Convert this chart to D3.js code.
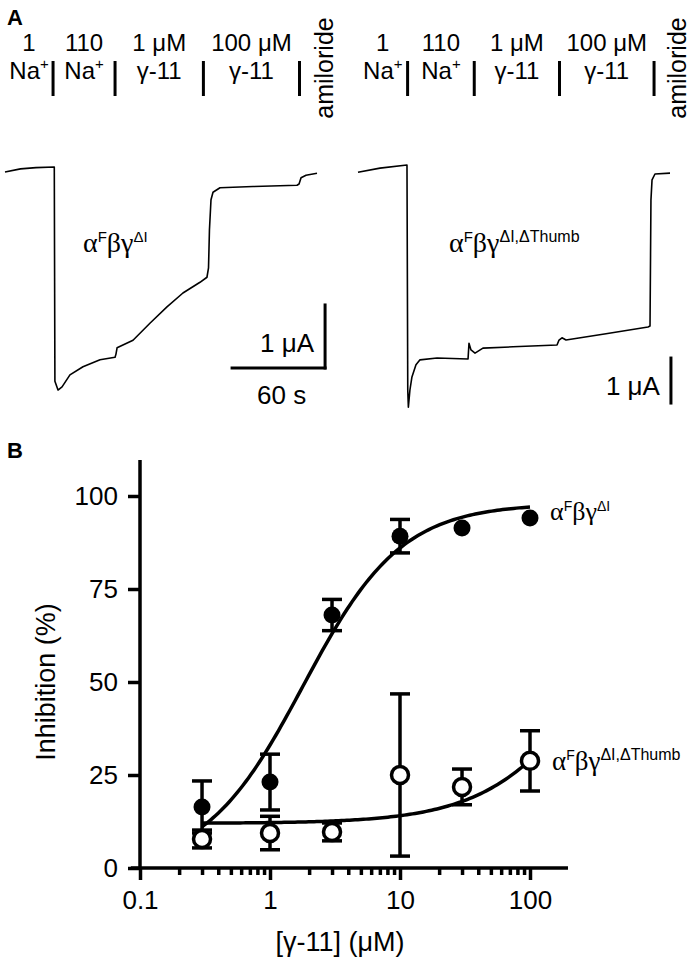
<!DOCTYPE html>
<html lang="en">
<head>
<meta charset="UTF-8">
<title>γ-11 inhibition of ENaC</title>
<style>
  body, html { margin: 0; padding: 0; background: #fff; }
  svg { display: block; }
  text { font-family: "Liberation Sans", Arial, sans-serif; fill: #000; }
  .serif { font-family: "Liberation Serif", "Times New Roman", serif; }
</style>
<script src="https://d3js.org/d3.v7.min.js"></script>
</head>
<body>
<div id="fig"></div>
<script>
// ---- panel A: current traces (time in s, current in µA, 0 = baseline before Na+)
const wtTime = [0, 10, 20, 31.8, 32.2, 34.2, 36.8, 41.9, 50.3, 61.3, 71, 71.6, 72.3, 82.6, 93.5, 104.5,
  114.8, 125.8, 130.3, 131.3, 131.9, 132.9, 134.2, 138.7, 160, 188.4, 189.7, 191, 194.2, 201.3];
const wtCurrent = [-0.08, -0.03, -0.01, 0, -3.4, -3.54, -3.49, -3.30, -3.17, -3.06, -3.02, -2.97, -2.87, -2.75, -2.48, -2.22,
  -2.0, -1.83, -1.75, -1.6, -1.0, -0.52, -0.40, -0.33, -0.31, -0.29, -0.27, -0.17, -0.13, -0.10];

const thumbTime = [0, 14.2, 31.6, 32.1, 32.5, 33.5, 34.8, 37.4, 40, 51, 71, 71.6, 72.9, 75.5, 80.6, 100,
  128.4, 129.7, 131.6, 134.2, 160, 187.1, 188.4, 189, 189.7, 191.6, 201.3];
const thumbCurrent = [-0.16, -0.07, 0, -5.0, -5.38, -5.0, -4.71, -4.44, -4.33, -4.29, -4.31, -3.96, -4.11, -4.18, -4.07, -4.04,
  -4.0, -3.89, -3.84, -3.89, -3.75, -3.6, -3.58, -0.78, -0.33, -0.2, -0.18];

// solution changes (s) and labels
const wtSwitch = [31, 71, 128, 190];
const thumbSwitch = [32, 75, 130, 191];
const solTop = ["1", "110", "1 μM", "100 μM"];
const solBottom = ["Na", "Na", "γ-11", "γ-11"];
const solSup = ["+", "+", "", ""];

// ---- panel B: concentration-response
const conc = [0.3, 1, 3, 10, 30, 100];
const inhibWT = [16.4, 23.1, 68, 89.2, 91.4, 94.1];
const semWT = [7, 7.5, 4.2, 4.5, 0, 0];
const inhibThumb = [7.8, 9.4, 9.7, 25, 21.8, 28.8];
const semThumb = [2.4, 4.5, 2.4, 21.8, 4.8, 8.1];
// Hill fits: bottom, top, IC50 (µM), Hill slope
const fitWT = [0, 98, 1.8, 1.15];
const fitThumb = [12, 100, 418, 1];

const yTicks = [0, 25, 50, 75, 100];
const xMajor = [0.1, 1, 10, 100];
const xMinor = [0.2, 0.3, 0.4, 0.5, 0.6, 0.7, 0.8, 0.9, 2, 3, 4, 5, 6, 7, 8, 9, 20, 30, 40, 50, 60, 70, 80, 90];

const W = 693, H = 962;
const svg = d3.select("#fig").append("svg").attr("width", W).attr("height", H);

svg.append("text").attr("x", 7).attr("y", 25).attr("font-size", 22).attr("font-weight", "bold").text("A");
svg.append("text").attr("x", 7).attr("y", 458).attr("font-size", 22).attr("font-weight", "bold").text("B");

function greekLabel(g, x, y, sup, size, supSize) {
  const t = g.append("text").attr("x", x).attr("y", y);
  const s = Math.round(size * 0.52);
  t.append("tspan").attr("class", "serif").attr("font-size", size).text("α");
  t.append("tspan").attr("font-size", s).attr("dy", -size * 0.36).text("F");
  t.append("tspan").attr("class", "serif").attr("font-size", size).attr("dy", size * 0.36).text("βγ");
  t.append("tspan").attr("font-size", supSize || s).attr("dy", -size * 0.36).text(sup);
}

function trace(time, current, x0, yPxPerUA, yBase, switches, barInfo) {
  const x = d3.scaleLinear().domain([0, 201.3]).range([x0, x0 + 201.3 * 1.55]);
  const y = d3.scaleLinear().domain([0, -1]).range([yBase, yBase + yPxPerUA]);
  const g = svg.append("g");

  g.append("path")
    .datum(d3.zip(time, current))
    .attr("fill", "none").attr("stroke", "#000").attr("stroke-width", 1.6)
    .attr("stroke-linejoin", "round")
    .attr("d", d3.line().x(d => x(d[0])).y(d => y(d[1])));

  // solution bar labels
  const starts = [0].concat(switches.slice(0, 3));
  solTop.forEach((lab, i) => {
    const cx = x((starts[i] + switches[i]) / 2);
    g.append("text").attr("x", cx).attr("y", 51).attr("font-size", 24)
      .attr("text-anchor", "middle").text(lab);
    const t = g.append("text").attr("x", cx).attr("y", 79).attr("font-size", 24)
      .attr("text-anchor", "middle");
    t.append("tspan").text(solBottom[i]);
    if (solSup[i]) t.append("tspan").attr("font-size", 15).attr("dy", -10).text(solSup[i]);
  });
  switches.forEach(s => {
    g.append("line").attr("x1", x(s)).attr("x2", x(s)).attr("y1", 61).attr("y2", 96)
      .attr("stroke", "#000").attr("stroke-width", 3);
  });
  g.append("text")
    .attr("transform", `translate(${x(201.3) + 16},68) rotate(-90)`)
    .attr("font-size", 25).attr("text-anchor", "middle").text("amiloride");

  // scale bars
  const b = barInfo;
  g.append("line").attr("x1", x(b.t)).attr("x2", x(b.t)).attr("y1", y(b.i)).attr("y2", y(b.i - 1))
    .attr("stroke", "#000").attr("stroke-width", 3).attr("stroke-linecap", "square");
  g.append("text").attr("x", x(b.t) - 38).attr("y", y(b.i - 1) - (b.sec ? 16 : 8))
    .attr("font-size", 26).attr("text-anchor", "middle").text("1 μA");
  if (b.sec) {
    g.append("line").attr("x1", x(b.t - 60)).attr("x2", x(b.t)).attr("y1", y(b.i - 1)).attr("y2", y(b.i - 1))
      .attr("stroke", "#000").attr("stroke-width", 3).attr("stroke-linecap", "square");
    g.append("text").attr("x", x(b.t - 28)).attr("y", y(b.i - 1) + 36)
      .attr("font-size", 26).attr("text-anchor", "middle").text("60 s");
  }
  return g;
}

const gA1 = trace(wtTime, wtCurrent, 5, 63, 167, wtSwitch, { t: 206.5, i: -2.19, sec: true });
greekLabel(gA1, 83, 252, "ΔI", 28);
const gA2 = trace(thumbTime, thumbCurrent, 358, 45, 165, thumbSwitch, { t: 201.9, i: -4.29, sec: false });
greekLabel(gA2, 449, 252, "ΔI,ΔThumb", 28, 16);

// ---- panel B
const x = d3.scaleLog().domain([0.1, 100]).range([140, 530]);
const y = d3.scaleLinear().domain([0, 100]).range([868, 496]);
const gB = svg.append("g");

const axisStyle = sel => {
  sel.selectAll("path, line").attr("stroke", "#000").attr("stroke-width", 3.5);
  sel.selectAll("text").attr("font-size", 26).attr("font-family", "Liberation Sans, Arial, sans-serif");
};

gB.append("g").attr("transform", "translate(140,0)")
  .call(d3.axisLeft(y).tickValues(yTicks).tickSize(12).tickPadding(10).tickSizeOuter(0))
  .call(g => g.select(".domain").remove())
  .call(axisStyle);
gB.append("line").attr("x1", 140).attr("x2", 140).attr("y1", y(0) + 1.75).attr("y2", y(109.7))
  .attr("stroke", "#000").attr("stroke-width", 3.5);

gB.append("g").attr("transform", "translate(0,868)")
  .call(d3.axisBottom(x).tickValues(xMinor).tickSize(7).tickFormat(""))
  .call(g => g.select(".domain").remove())
  .call(axisStyle);
gB.append("g").attr("transform", "translate(0,868)")
  .call(d3.axisBottom(x).tickValues(xMajor).tickSize(12).tickPadding(11).tickFormat(d => String(d)))
  .call(g => g.select(".domain").remove())
  .call(axisStyle);
gB.append("line").attr("x1", x(0.085)).attr("x2", x(196)).attr("y1", 868).attr("y2", 868)
  .attr("stroke", "#000").attr("stroke-width", 3.5);

gB.append("text").attr("transform", "translate(55,682) rotate(-90)")
  .attr("font-size", 27).attr("text-anchor", "middle").text("Inhibition (%)");
gB.append("text").attr("x", 340).attr("y", 951).attr("font-size", 27).attr("text-anchor", "middle")
  .text("[γ-11] (μM)");

function hill(p, c) { return p[0] + (p[1] - p[0]) / (1 + Math.pow(p[2] / c, p[3])); }
const fitLine = p => d3.line().x(d => x(d)).y(d => y(hill(p, d)));
const fitX = d3.range(0, 121).map(i => 0.3 * Math.pow(100 / 0.3, i / 120));

function series(vals, sems, fit, filled) {
  const g = gB.append("g");
  g.append("path").datum(fitX).attr("fill", "none").attr("stroke", "#000").attr("stroke-width", 3.5)
    .attr("d", fitLine(fit));
  conc.forEach((c, i) => {
    const cx = x(c);
    if (sems[i] > 0) {
      g.append("line").attr("x1", cx).attr("x2", cx).attr("y1", y(vals[i] - sems[i])).attr("y2", y(vals[i] + sems[i]))
        .attr("stroke", "#000").attr("stroke-width", 3.5);
      [vals[i] - sems[i], vals[i] + sems[i]].forEach(v => {
        g.append("line").attr("x1", cx - 10).attr("x2", cx + 10).attr("y1", y(v)).attr("y2", y(v))
          .attr("stroke", "#000").attr("stroke-width", 3.5);
      });
    }
  });
  g.selectAll("circle").data(conc).join("circle")
    .attr("cx", d => x(d)).attr("cy", (d, i) => y(vals[i]))
    .attr("r", 8.5)
    .attr("fill", filled ? "#000" : "#fff")
    .attr("stroke", "#000").attr("stroke-width", filled ? 0 : 3.5);
}
series(inhibWT, semWT, fitWT, true);
series(inhibThumb, semThumb, fitThumb, false);

greekLabel(gB, 550, 520, "ΔI", 26);
greekLabel(gB, 552, 770, "ΔI,ΔThumb", 27, 16);
</script>
</body>
</html>
